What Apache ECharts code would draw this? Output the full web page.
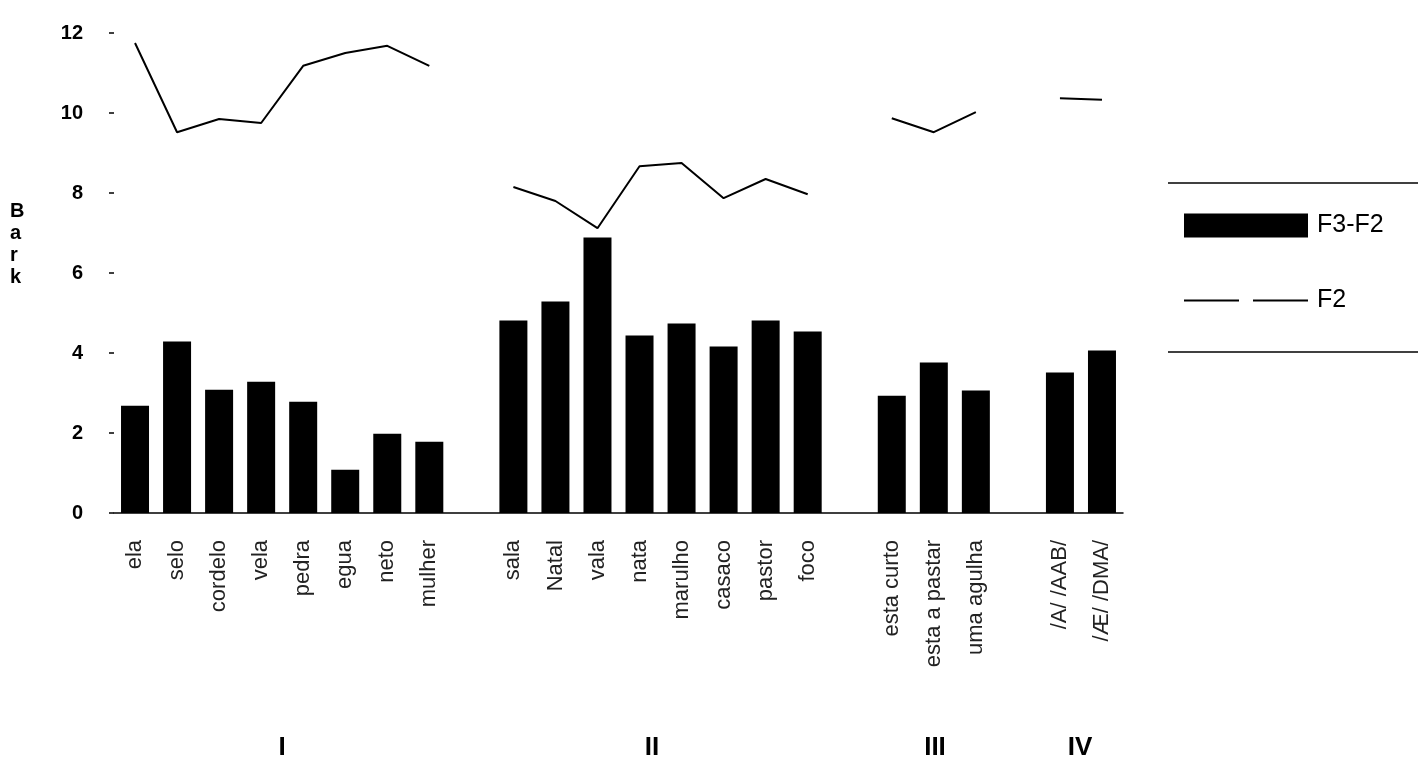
<!DOCTYPE html>
<html>
<head>
<meta charset="utf-8">
<script src="https://cdn.jsdelivr.net/npm/echarts@6/dist/echarts.min.js"></script>
<style>
  html, body { margin: 0; padding: 0; background: #fff; }
  #chart { width: 1418px; height: 769px; }
</style>
</head>
<body>
<div id="chart"></div>
<script>
// word groups (I - IV)
const wordsI = ['ela', 'selo', 'cordelo', 'vela', 'pedra', 'egua', 'neto', 'mulher'];
const wordsII = ['sala', 'Natal', 'vala', 'nata', 'marulho', 'casaco', 'pastor', 'foco'];
const wordsIII = ['esta curto', 'esta a pastar', 'uma agulha'];
const wordsIV = ['/A/ /AAB/', '/Æ/ /DMA/'];

// F3-F2 (Bark)
const diffI = [2.68, 4.29, 3.08, 3.28, 2.78, 1.08, 1.98, 1.78];
const diffII = [4.81, 5.29, 6.89, 4.44, 4.74, 4.16, 4.81, 4.54];
const diffIII = [2.93, 3.76, 3.06];
const diffIV = [3.51, 4.06];

// F2 (Bark)
const f2I = [11.75, 9.52, 9.85, 9.75, 11.18, 11.5, 11.68, 11.18];
const f2II = [8.15, 7.8, 7.12, 8.67, 8.75, 7.87, 8.35, 7.97];
const f2III = [9.87, 9.52, 10.02];
const f2IV = [10.37, 10.33];

const groupNames = ['I', 'II', 'III', 'IV'];
const yTicks = [0, 2, 4, 6, 8, 10, 12];

// join the groups with an empty slot between them
const categories = [...wordsI, ' ', ...wordsII, '  ', ...wordsIII, '   ', ...wordsIV];
const diffData = [...diffI, null, ...diffII, null, ...diffIII, null, ...diffIV];
const f2Data = [...f2I, null, ...f2II, null, ...f2III, null, ...f2IV];

const chart = echarts.init(document.getElementById('chart'));

const option = {
  animation: false,
  backgroundColor: '#fff',
  grid: { left: 114, right: 295, top: 33, bottom: 256 },
  legend: {
    orient: 'vertical',
    left: 1178,
    top: 208,
    itemWidth: 124,
    itemHeight: 24,
    itemGap: 50,
    textStyle: { fontFamily: 'Liberation Sans, Arial, sans-serif', fontSize: 25, color: '#000', padding: [0, 0, 0, 4] },
    data: [
      { name: 'F3-F2', icon: 'rect' },
      {
        name: 'F2',
        itemStyle: { color: 'rgba(0,0,0,0)', borderWidth: 0 },
        lineStyle: { color: '#000', width: 2, type: [55, 14] }
      }
    ]
  },
  xAxis: {
    type: 'category',
    data: categories,
    axisLine: { show: true, lineStyle: { color: '#000', width: 1.5 } },
    axisTick: { show: false },
    axisLabel: {
      rotate: 90,
      interval: 0,
      margin: 27,
      fontFamily: 'Liberation Sans Narrow, Liberation Sans, Arial, sans-serif',
      fontSize: 22,
      color: '#222'
    }
  },
  yAxis: {
    type: 'value',
    min: 0,
    max: 12,
    interval: 2,
    splitLine: { show: false },
    axisLine: { show: false },
    axisTick: { show: true, length: 5, lineStyle: { color: '#000', width: 1.5 } },
    axisLabel: {
      margin: 31,
      fontFamily: 'Liberation Sans, Arial, sans-serif',
      fontWeight: 'bold',
      fontSize: 20,
      color: '#000',
      formatter: v => (yTicks.includes(v) ? String(v) : '')
    }
  },
  series: [
    {
      name: 'F3-F2',
      type: 'bar',
      data: diffData,
      barWidth: 28,
      itemStyle: { color: '#000' }
    },
    {
      name: 'F2',
      type: 'line',
      data: f2Data,
      symbol: 'none',
      connectNulls: false,
      lineStyle: { color: '#000', width: 2 },
      itemStyle: { color: '#000' }
    }
  ],
  graphic: [
    {
      type: 'text',
      left: 10,
      top: 200,
      style: {
        text: 'B\na\nr\nk',
        font: 'bold 20px Liberation Sans, Arial, sans-serif',
        lineHeight: 22,
        align: 'center',
        fill: '#000'
      }
    },
    // legend frame (top and bottom rules)
    { type: 'line', shape: { x1: 1168, y1: 183, x2: 1418, y2: 183 }, style: { stroke: '#000', lineWidth: 1.5 } },
    { type: 'line', shape: { x1: 1168, y1: 352, x2: 1418, y2: 352 }, style: { stroke: '#000', lineWidth: 1.5 } }
  ]
};

// group labels under each block of words
const groupCenters = [282, 652, 935, 1080];
groupNames.forEach((g, i) => {
  option.graphic.push({
    type: 'text',
    x: groupCenters[i],
    y: 748,
    style: {
      text: g,
      font: 'bold 26px Liberation Sans, Arial, sans-serif',
      align: 'center',
      verticalAlign: 'middle',
      fill: '#000'
    }
  });
});

chart.setOption(option);
</script>
</body>
</html>
